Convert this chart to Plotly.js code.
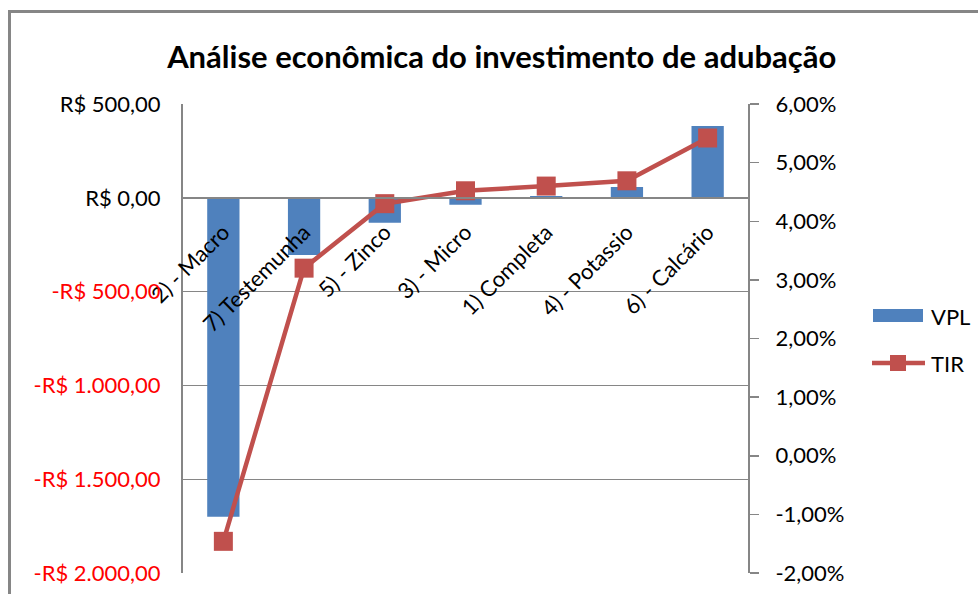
<!DOCTYPE html>
<html>
<head>
<meta charset="utf-8">
<script src="https://cdn.plot.ly/plotly-3.0.1.min.js"></script>
<style>html,body{margin:0;padding:0;background:#fff;}#chart{width:978px;height:594px;}</style>
</head>
<body>
<div id="chart"></div>
<script>
const categorias = ['2) - Macro','7) Testemunha','5) - Zinco','3) - Micro','1) Completa','4) - Potassio','6) - Calcário'];
const vpl = [-1700, -305, -133, -37, 10, 57, 383];
const tir = [-1.46, 3.20, 4.30, 4.52, 4.60, 4.69, 5.42];
const vplTicks = [-2000, -1500, -1000, -500, 0, 500];
const tirTicks = [-2, -1, 0, 1, 2, 3, 4, 5, 6];
const nomeVPL = 'VPL';
const nomeTIR = 'TIR';
const titulo = 'Análise econômica do investimento de adubação';

function brl(v) {
  const parts = Math.abs(v).toFixed(2).split('.');
  const inteiro = parts[0].replace(/\B(?=(\d{3})+(?!\d))/g, '.');
  const txt = (v < 0 ? '-' : '') + 'R$ ' + inteiro + ',' + parts[1];
  return v < 0 ? '<span style="color:#FF0000">' + txt + '</span>' : txt;
}
function pct(v) { return v.toFixed(2).replace('.', ',') + '%'; }

const FONT = 'Lato, "Open Sans", sans-serif';
const BLUE = '#4F81BD', RED = '#C0504D', GRID = '#868686';

// plot area pixels for legend placement
const L = 183, R = 748, T = 104, B = 573;
const px = x => (x - L) / (R - L);
const py = y => (B - y) / (B - T);

const traces = [
  {type: 'bar', x: categorias, y: vpl, name: nomeVPL, marker: {color: BLUE}, yaxis: 'y', showlegend: false, hoverinfo: 'skip'},
  {type: 'scatter', mode: 'lines+markers', x: categorias, y: tir, name: nomeTIR, yaxis: 'y2',
   line: {color: RED, width: 4.5}, marker: {symbol: 'square', size: 19, color: RED}, showlegend: false, hoverinfo: 'skip'}
];

const layout = {
  width: 978, height: 594,
  margin: {l: L, r: 978 - R, t: T, b: 594 - B},
  paper_bgcolor: '#fff', plot_bgcolor: '#fff',
  font: {family: FONT, size: 22, color: '#000'},
  bargap: 0.6,
  title: {text: '<b>' + titulo + '</b>', x: 0.513, xanchor: 'center', y: 0.903, yanchor: 'middle', font: {family: FONT, size: 31, color: '#000'}},
  xaxis: {
    type: 'category', anchor: 'free', position: 2000 / 2500,
    showline: true, linecolor: GRID, linewidth: 2, ticks: '', tickangle: -45, ticklabelstandoff: 12,
    showgrid: false, tickfont: {family: FONT, size: 22, color: '#000'}
  },
  yaxis: {
    range: [-2000, 500], tickvals: vplTicks, ticktext: vplTicks.map(brl),
    showgrid: true, gridcolor: GRID, gridwidth: 1.2, zeroline: true, zerolinecolor: GRID, zerolinewidth: 2,
    showline: true, linecolor: GRID, linewidth: 2, ticks: 'outside', ticklen: 16, tickcolor: 'rgba(0,0,0,0)',
    tickfont: {family: FONT, size: 22, color: '#000'}
  },
  yaxis2: {
    range: [-2, 6], tickvals: tirTicks, ticktext: tirTicks.map(pct), overlaying: 'y', side: 'right',
    showgrid: false, zeroline: false, showline: true, linecolor: GRID, linewidth: 2,
    ticks: 'outside', ticklen: 9, tickcolor: GRID, tickwidth: 1.5, ticklabelstandoff: 12,
    tickfont: {family: FONT, size: 22, color: '#000'}
  },
  shapes: [
    {type: 'rect', xref: 'paper', yref: 'paper', x0: px(9.5), x1: px(990), y0: py(11.5), y1: py(600), line: {color: GRID, width: 3}, fillcolor: 'rgba(0,0,0,0)', layer: 'below'},
    {type: 'rect', xref: 'paper', yref: 'paper', x0: px(873), x1: px(923), y0: py(322), y1: py(309), line: {width: 0}, fillcolor: BLUE},
    {type: 'line', xref: 'paper', yref: 'paper', x0: px(872), x1: px(925), y0: py(363), y1: py(363), line: {color: RED, width: 4.5}},
    {type: 'rect', xref: 'paper', yref: 'paper', x0: px(890), x1: px(906), y0: py(371), y1: py(355), line: {width: 0}, fillcolor: RED}
  ],
  annotations: [
    {xref: 'paper', yref: 'paper', x: px(929), y: py(316), text: nomeVPL, showarrow: false, xanchor: 'left', yanchor: 'middle', font: {family: FONT, size: 22, color: '#000'}},
    {xref: 'paper', yref: 'paper', x: px(929), y: py(363), text: nomeTIR, showarrow: false, xanchor: 'left', yanchor: 'middle', font: {family: FONT, size: 22, color: '#000'}}
  ]
};

Plotly.newPlot('chart', traces, layout, {displayModeBar: false, staticPlot: true});
</script>
</body>
</html>
